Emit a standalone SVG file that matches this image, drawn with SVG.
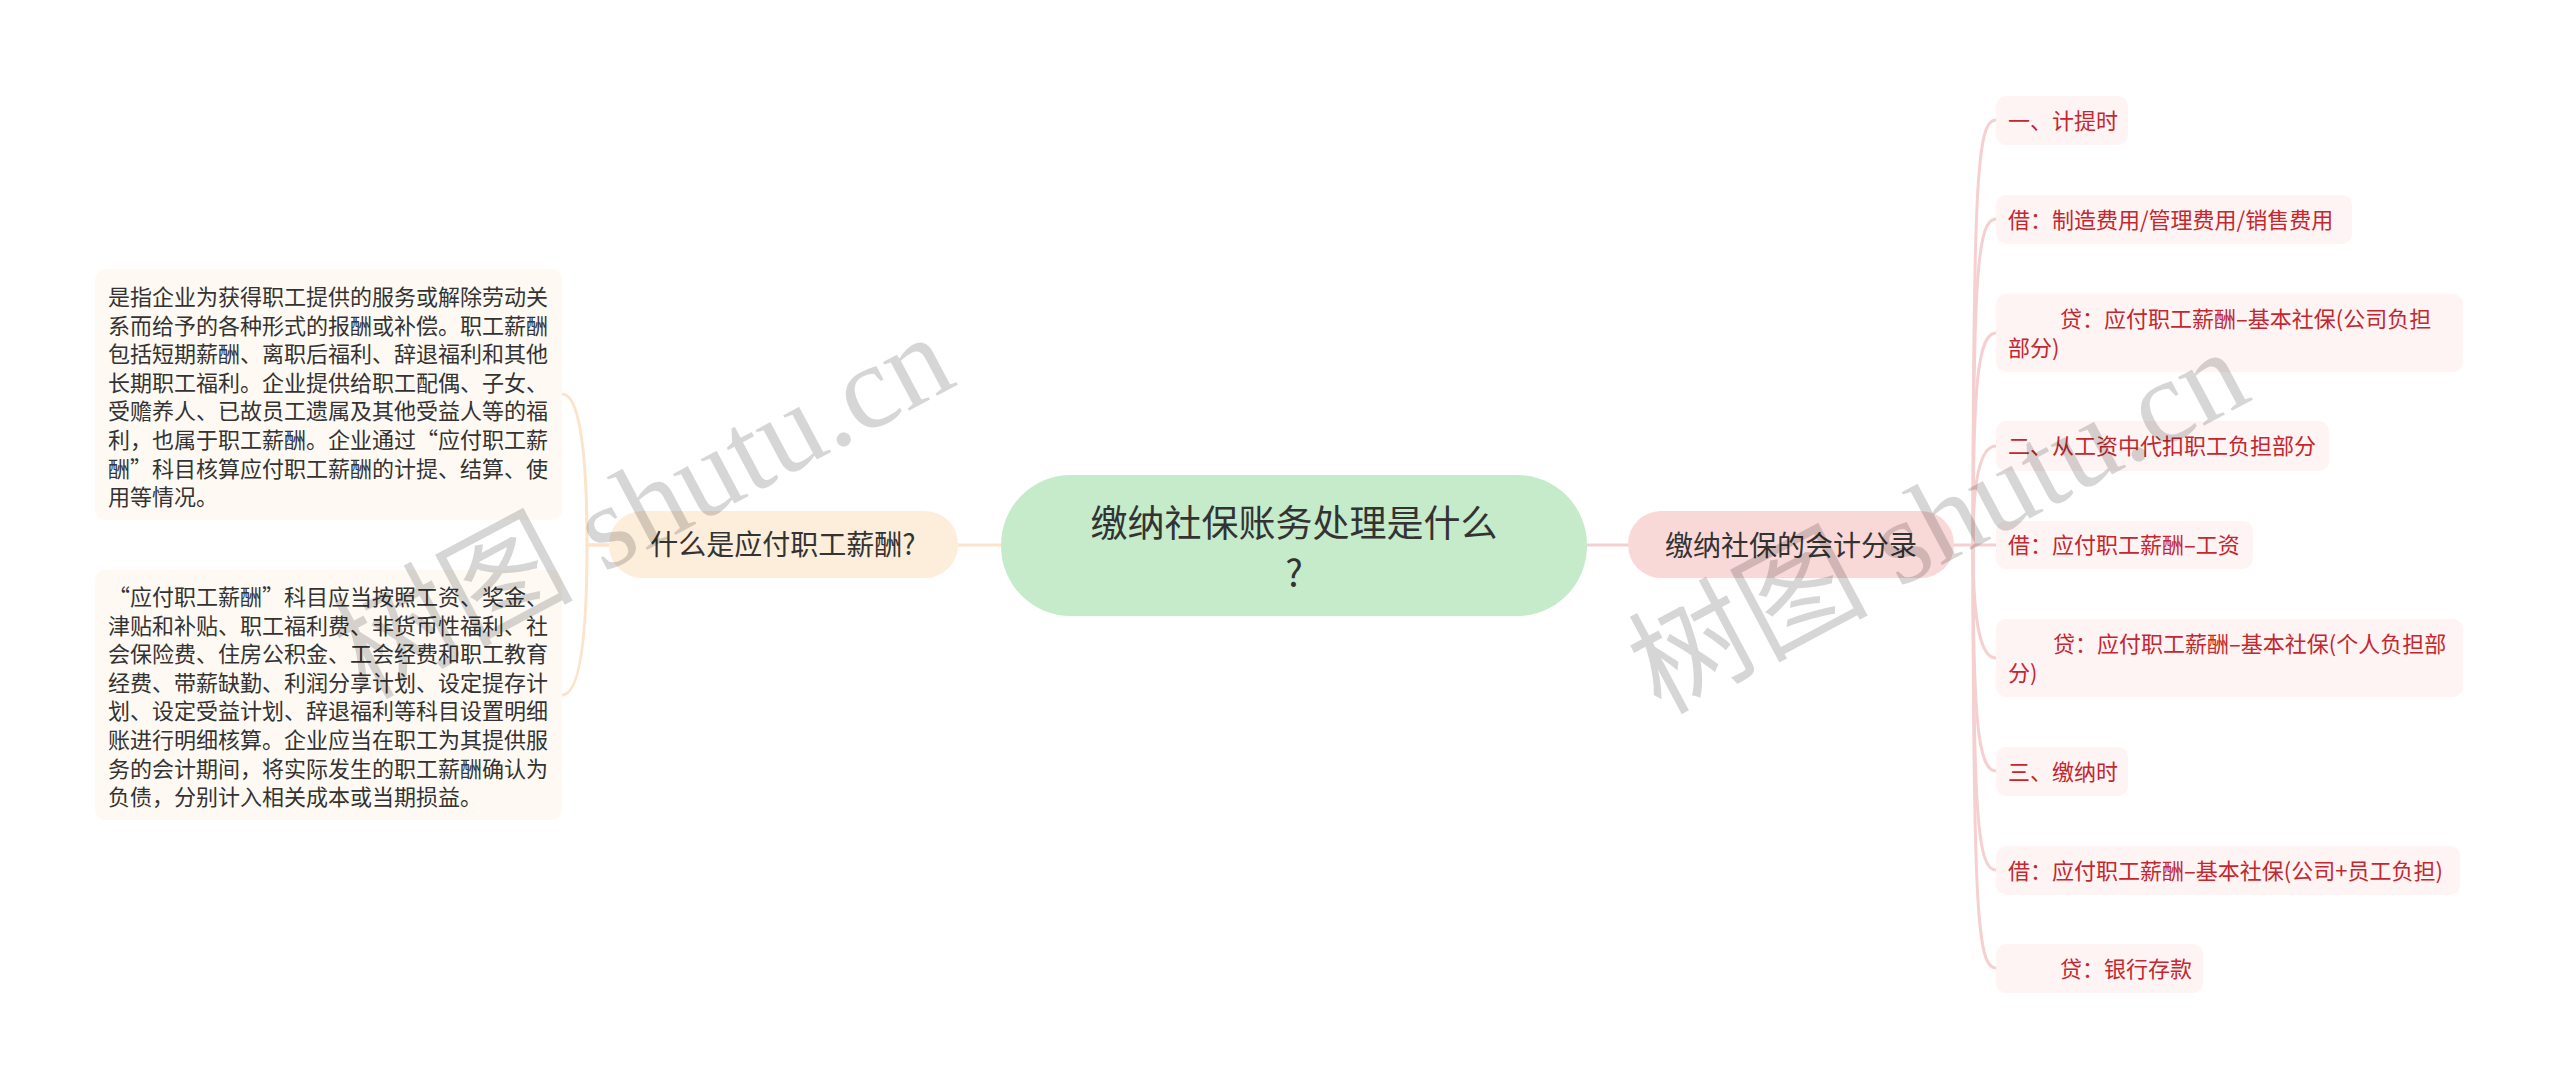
<svg xmlns="http://www.w3.org/2000/svg" width="2560" height="1090" viewBox="0 0 2560 1090">
<style>
.cjk{font-family:"Noto Sans CJK SC","Noto Sans",sans-serif}
.ltxt{font-size:22px;fill:#333333}
.rtxt{font-size:22px;fill:#c4272f}
.lbox{fill:#fefaf3}
.rbox{fill:#fef4f4}
.conR{fill:none;stroke:#f6d0d0;stroke-width:3}
.conL{fill:none;stroke:#fce3c9;stroke-width:3}
.wm{font-family:"Liberation Serif","Noto Sans CJK SC",serif;font-size:120px;fill:#000000;fill-opacity:0.16}
</style>
<rect width="2560" height="1090" fill="#ffffff"/>
<g id="connectors">
<path class="conL" d="M958 545 H1001"/>
<path class="conR" d="M1587 545 H1628"/>
<path class="conL" d="M609 545 H587 C587 454 580 394 562 394"/>
<path class="conL" d="M609 545 H587 C587 636 580 695 562 695"/>
<path class="conR" d="M1954 545 H1996"/>
<path class="conR" d="M1973 545 C1973 170 1978 120 1996 120"/>
<path class="conR" d="M1973 545 C1973 270 1978 219 1996 219"/>
<path class="conR" d="M1973 545 C1973 383 1978 333 1996 333"/>
<path class="conR" d="M1973 545 C1973 490 1978 446 1996 446"/>
<path class="conR" d="M1973 545 C1973 610 1978 658 1996 658"/>
<path class="conR" d="M1973 545 C1973 720 1978 771 1996 771"/>
<path class="conR" d="M1973 545 C1973 820 1978 870 1996 870"/>
<path class="conR" d="M1973 545 C1973 918 1978 968 1996 968"/>
</g>
<g id="root">
<rect x="1001" y="475" width="586" height="141" rx="70" fill="#c5ebca"/>
<text class="cjk" x="1294" y="537" font-size="37" fill="#333333" text-anchor="middle">缴纳社保账务处理是什么</text>
<text class="cjk" x="1294" y="587" font-size="37" fill="#333333" text-anchor="middle">?</text>
</g>
<g id="left-branch">
<rect x="609" y="511" width="349" height="67" rx="33" fill="#fdeedc"/>
<text class="cjk" x="783" y="555" font-size="28" fill="#333333" text-anchor="middle">什么是应付职工薪酬?</text>
</g>
<g id="right-branch">
<rect x="1628" y="511" width="326" height="67" rx="33" fill="#f9d8d8"/>
<text class="cjk" x="1791" y="556" font-size="28" fill="#333333" text-anchor="middle">缴纳社保的会计分录</text>
</g>
<g id="left-text-1">
<rect class="lbox" x="95" y="269" width="467" height="251" rx="10"/>
<text class="cjk ltxt">
<tspan x="108" y="305">是指企业为获得职工提供的服务或解除劳动关</tspan>
<tspan x="108" y="333.6">系而给予的各种形式的报酬或补偿。职工薪酬</tspan>
<tspan x="108" y="362.2">包括短期薪酬、离职后福利、辞退福利和其他</tspan>
<tspan x="108" y="390.8">长期职工福利。企业提供给职工配偶、子女、</tspan>
<tspan x="108" y="419.4">受赡养人、已故员工遗属及其他受益人等的福</tspan>
<tspan x="108" y="448">利，也属于职工薪酬。企业通过“应付职工薪</tspan>
<tspan x="108" y="476.6">酬”科目核算应付职工薪酬的计提、结算、使</tspan>
<tspan x="108" y="505.2">用等情况。</tspan>
</text>
</g>
<g id="left-text-2">
<rect class="lbox" x="95" y="570" width="467" height="250" rx="10"/>
<text class="cjk ltxt">
<tspan x="108" y="605">“应付职工薪酬”科目应当按照工资、奖金、</tspan>
<tspan x="108" y="633.6">津贴和补贴、职工福利费、非货币性福利、社</tspan>
<tspan x="108" y="662.2">会保险费、住房公积金、工会经费和职工教育</tspan>
<tspan x="108" y="690.8">经费、带薪缺勤、利润分享计划、设定提存计</tspan>
<tspan x="108" y="719.4">划、设定受益计划、辞退福利等科目设置明细</tspan>
<tspan x="108" y="748">账进行明细核算。企业应当在职工为其提供服</tspan>
<tspan x="108" y="776.6">务的会计期间，将实际发生的职工薪酬确认为</tspan>
<tspan x="108" y="805.2">负债，分别计入相关成本或当期损益。</tspan>
</text>
</g>
<g id="r1">
<rect class="rbox" x="1996" y="96" width="132" height="49" rx="10"/>
<text class="cjk rtxt" x="2008" y="129">一、计提时</text>
</g>
<g id="r2">
<rect class="rbox" x="1996" y="195" width="356" height="49" rx="10"/>
<text class="cjk rtxt" x="2008" y="228">借：制造费用/管理费用/销售费用</text>
</g>
<g id="r3">
<rect class="rbox" x="1996" y="294" width="467" height="78" rx="10"/>
<text class="cjk rtxt"><tspan x="2060" y="327">贷：应付职工薪酬–基本社保(公司负担</tspan><tspan x="2008" y="356">部分)</tspan></text>
</g>
<g id="r4">
<rect class="rbox" x="1996" y="421" width="333" height="50" rx="10"/>
<text class="cjk rtxt" x="2008" y="454">二、从工资中代扣职工负担部分</text>
</g>
<g id="r5">
<rect class="rbox" x="1996" y="521" width="257" height="48" rx="10"/>
<text class="cjk rtxt" x="2008" y="553">借：应付职工薪酬–工资</text>
</g>
<g id="r6">
<rect class="rbox" x="1996" y="619" width="467" height="78" rx="10"/>
<text class="cjk rtxt"><tspan x="2053" y="652">贷：应付职工薪酬–基本社保(个人负担部</tspan><tspan x="2008" y="681">分)</tspan></text>
</g>
<g id="r7">
<rect class="rbox" x="1996" y="747" width="132" height="49" rx="10"/>
<text class="cjk rtxt" x="2008" y="780">三、缴纳时</text>
</g>
<g id="r8">
<rect class="rbox" x="1996" y="846" width="464" height="49" rx="10"/>
<text class="cjk rtxt" x="2008" y="879">借：应付职工薪酬–基本社保(公司+员工负担)</text>
</g>
<g id="r9">
<rect class="rbox" x="1996" y="944" width="207" height="49" rx="10"/>
<text class="cjk rtxt" x="2060" y="977">贷：银行存款</text>
</g>
<g id="watermark">
<text class="wm" transform="translate(365,700) rotate(-28)">树图 shutu.cn</text>
<text class="wm" transform="translate(1660,715) rotate(-28)">树图 shutu.cn</text>
</g>
</svg>
